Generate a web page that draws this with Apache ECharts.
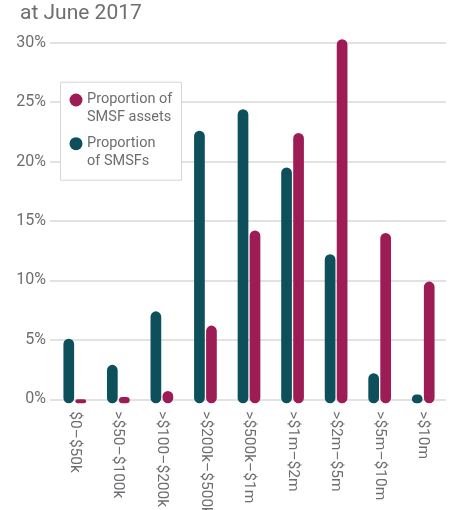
<!DOCTYPE html>
<html>
<head>
<meta charset="utf-8">
<script src="https://cdn.jsdelivr.net/npm/echarts@6/dist/echarts.min.js"></script>
<style>
html,body{margin:0;padding:0;background:#fff;}
#chart{width:454px;height:510px;}
</style>
</head>
<body>
<div id="chart"></div>
<script>
var subtitle = 'at June 2017';
var categories = ['$0–$50k', '>$50–$100k', '>$100–$200k', '>$200k–$500k', '>$500k–$1m', '>$1m–$2m', '>$2m–$5m', '>$5m–$10m', '>$10m'];
var seriesNames = ['Proportion of\nSMSF assets', 'Proportion\nof SMSFs'];
var assetsShare = [0.0, 0.2, 0.7, 6.2, 14.2, 22.4, 30.3, 14.0, 9.9];
var smsfShare = [5.1, 2.9, 7.4, 22.6, 24.4, 19.5, 12.2, 2.2, 0.4];
var yTicks = [0, 5, 10, 15, 20, 25, 30];

var TEAL = '#0d505b';
var MAGENTA = '#9e1c56';
var GREY = '#6d6e71';
var FONT = 'Roboto, "Liberation Sans", sans-serif';

function makeRender(color, offset) {
  return function (params, api) {
    var idx = api.value(0);
    var v = api.value(1);
    var top = api.coord([idx, v]);
    var base = api.coord([idx, 0]);
    var w = 10.7;
    var x = top[0] + offset;
    var bottom = base[1] + 4;
    var h = bottom - top[1];
    var r = Math.min(w / 2, h / 2);
    return {
      type: 'rect',
      shape: { x: x - w / 2, y: top[1], width: w, height: h, r: r },
      style: { fill: color }
    };
  };
}

var chart = echarts.init(document.getElementById('chart'), null, { renderer: 'canvas' });
var option = {
  animation: false,
  backgroundColor: '#fff',
  title: {
    text: subtitle,
    left: 15, top: -2,
    textStyle: { fontFamily: FONT, fontSize: 21, fontWeight: 'normal', color: GREY }
  },
  grid: [
    { left: 50, right: 8, top: 42.7, bottom: 110.7, outerBoundsMode: 'none', containLabel: false },
    { left: 53, right: 9, top: 42.7, bottom: 110.7, outerBoundsMode: 'none', containLabel: false }
  ],
  xAxis: [
    { type: 'category', gridIndex: 0, data: categories, show: false },
    {
      type: 'category', gridIndex: 1, data: categories,
      axisLine: { show: false }, axisTick: { show: false },
      axisLabel: { rotate: -90, margin: 12, interval: 0, fontFamily: FONT, fontSize: 15.5, color: GREY }
    }
  ],
  yAxis: [
    {
      type: 'value', gridIndex: 0, min: 0, max: 30, interval: 5,
      axisLine: { show: false }, axisTick: { show: false },
      axisLabel: { margin: 4, fontFamily: FONT, fontSize: 16, color: GREY, formatter: '{value}%' },
      splitLine: { lineStyle: { color: '#d9d9d9', width: 1.5 } }
    },
    { type: 'value', gridIndex: 1, min: 0, max: 30, interval: 5, show: false, splitLine: { show: false } }
  ],
  series: [
    {
      name: seriesNames[0], type: 'custom', xAxisIndex: 1, yAxisIndex: 1, clip: false,
      renderItem: makeRender(MAGENTA, 6),
      data: assetsShare.map(function (v, i) { return [i, v]; }),
      z: 3
    },
    {
      name: seriesNames[1], type: 'custom', xAxisIndex: 1, yAxisIndex: 1, clip: false,
      renderItem: makeRender(TEAL, -6),
      data: smsfShare.map(function (v, i) { return [i, v]; }),
      z: 3
    }
  ],
  graphic: [
    {
      type: 'rect', left: 60, top: 81.7, z: 10,
      shape: { width: 121, height: 98 },
      style: { fill: '#fff', stroke: '#d6d6d6', lineWidth: 1 }
    },
    { type: 'circle', z: 11, shape: { cx: 76, cy: 100, r: 6.5 }, style: { fill: MAGENTA } },
    {
      type: 'text', z: 11, left: 87, top: 91,
      style: { text: seriesNames[0], fontFamily: FONT, fontSize: 14.5, lineHeight: 17.5, fill: GREY }
    },
    { type: 'circle', z: 11, shape: { cx: 76, cy: 143.7, r: 6.5 }, style: { fill: TEAL } },
    {
      type: 'text', z: 11, left: 87, top: 135,
      style: { text: seriesNames[1], fontFamily: FONT, fontSize: 14.5, lineHeight: 17.5, fill: GREY }
    }
  ]
};
chart.setOption(option);
</script>
</body>
</html>
